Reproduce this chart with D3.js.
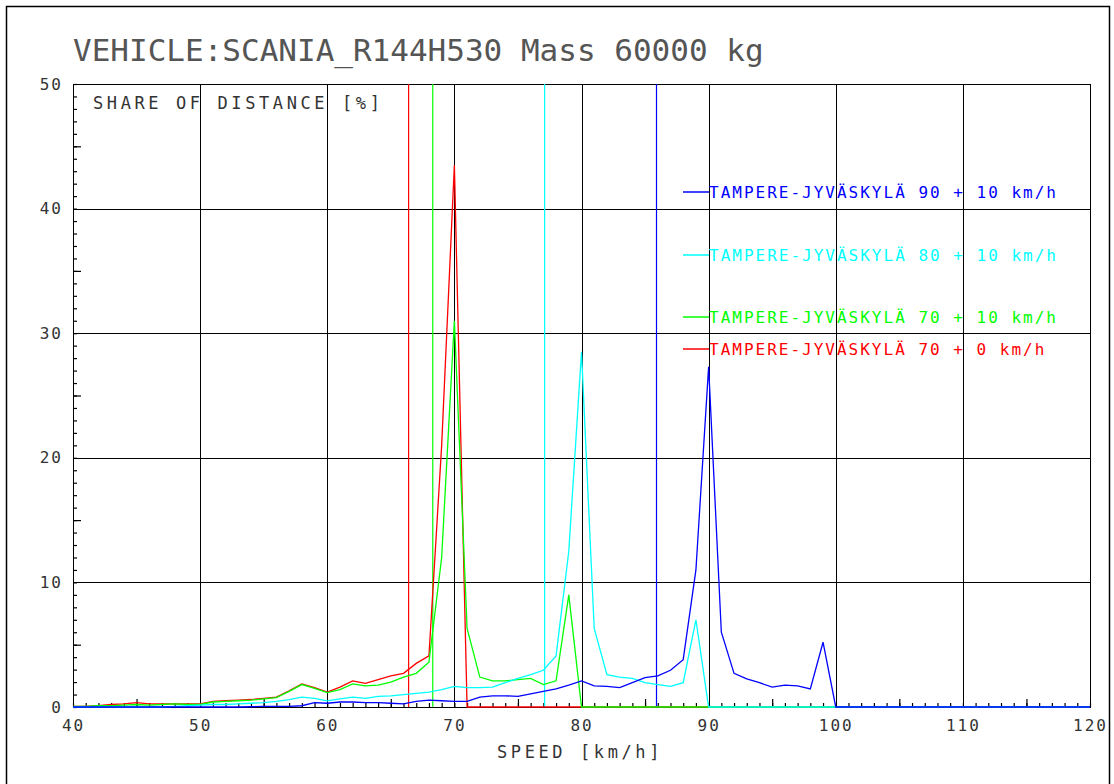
<!DOCTYPE html>
<html>
<head>
<meta charset="utf-8">
<script src="https://cdn.jsdelivr.net/npm/d3@7"></script>
<style>
  body { margin: 0; background: #fff; }
  svg text { font-family: "DejaVu Sans Mono", monospace; fill: #333; }
</style>
</head>
<body>
<div id="chart-area"></div>
<script>
/*
*    speed distribution chart
*/

// speeds [km/h]
let speeds = [40, 41, 42, 43, 44, 45, 46, 47, 48, 49,
              50, 51, 52, 53, 54, 55, 56, 57, 58, 59,
              60, 61, 62, 63, 64, 65, 66, 67, 68, 69,
              70, 71, 72, 73, 74, 75, 76, 77, 78, 79,
              80, 81, 82, 83, 84, 85, 86, 87, 88, 89,
              90, 91, 92, 93, 94, 95, 96, 97, 98, 99,
              100, 101, 102, 103, 104, 105, 106, 107, 108, 109,
              110, 111, 112, 113, 114, 115, 116, 117, 118, 119, 120];

// share of distance [%]
let share70plus0 = [0.05, 0.05, 0.1, 0.2, 0.25, 0.35, 0.25, 0.25, 0.25, 0.25,
                    0.25, 0.45, 0.5, 0.55, 0.6, 0.7, 0.8, 1.3, 1.85, 1.55,
                    1.2, 1.6, 2.1, 1.9, 2.2, 2.5, 2.7, 3.5, 4.1, 21,
                    43.5, 0, 0, 0, 0, 0, 0, 0, 0, 0,
                    0, 0, 0, 0, 0, 0, 0, 0, 0, 0,
                    0, 0, 0, 0, 0, 0, 0, 0, 0, 0,
                    0, 0, 0, 0, 0, 0, 0, 0, 0, 0,
                    0, 0, 0, 0, 0, 0, 0, 0, 0, 0, 0];

let share70plus10 = [0.05, 0.05, 0.1, 0.1, 0.15, 0.2, 0.15, 0.2, 0.25, 0.2,
                     0.2, 0.4, 0.45, 0.5, 0.55, 0.65, 0.75, 1.25, 1.8, 1.5,
                     1.15, 1.4, 1.85, 1.7, 1.75, 2.0, 2.4, 2.7, 3.6, 12,
                     31, 6.3, 2.4, 2.1, 2.1, 2.2, 2.3, 1.8, 2.1, 9.0,
                     0, 0, 0, 0, 0, 0, 0, 0, 0, 0,
                     0, 0, 0, 0, 0, 0, 0, 0, 0, 0,
                     0, 0, 0, 0, 0, 0, 0, 0, 0, 0,
                     0, 0, 0, 0, 0, 0, 0, 0, 0, 0, 0];

let share80plus10 = [0, 0, 0, 0, 0, 0, 0, 0, 0.05, 0.1,
                     0.15, 0.2, 0.2, 0.25, 0.3, 0.35, 0.45, 0.6, 0.8, 0.7,
                     0.5, 0.65, 0.8, 0.7, 0.85, 0.9, 1.0, 1.1, 1.2, 1.4,
                     1.65, 1.55, 1.55, 1.6, 1.95, 2.3, 2.6, 2.95, 4.1, 12.5,
                     28.5, 6.3, 2.6, 2.4, 2.3, 1.95, 1.8, 1.65, 1.95, 7.0,
                     0, 0, 0, 0, 0, 0, 0, 0, 0, 0,
                     0, 0, 0, 0, 0, 0, 0, 0, 0, 0,
                     0, 0, 0, 0, 0, 0, 0, 0, 0, 0, 0];

let share90plus10 = [0, 0, 0, 0, 0, 0, 0, 0, 0, 0,
                     0, 0, 0, 0, 0.02, 0.05, 0.05, 0.05, 0.1, 0.35,
                     0.3, 0.4, 0.4, 0.35, 0.35, 0.3, 0.25, 0.45, 0.55, 0.5,
                     0.45, 0.45, 0.8, 0.9, 0.9, 0.85, 1.05, 1.25, 1.45, 1.75,
                     2.1, 1.7, 1.65, 1.55, 1.95, 2.35, 2.5, 2.95, 3.8, 11,
                     27.3, 6.0, 2.7, 2.25, 1.95, 1.6, 1.75, 1.7, 1.45, 5.2,
                     0, 0, 0, 0, 0, 0, 0, 0, 0, 0,
                     0, 0, 0, 0, 0, 0, 0, 0, 0, 0, 0];

// legend order (top to bottom) and mean speeds
let seriesNames = ["TAMPERE-JYVÄSKYLÄ 90 + 10 km/h",
                   "TAMPERE-JYVÄSKYLÄ 80 + 10 km/h",
                   "TAMPERE-JYVÄSKYLÄ 70 + 10 km/h",
                   "TAMPERE-JYVÄSKYLÄ 70 + 0 km/h"];
let seriesValues = [share90plus10, share80plus10, share70plus10, share70plus0];
let seriesColors = ["#0000ff", "#00ffff", "#00ff00", "#ff0000"];
let meanSpeeds = [85.9, 77.1, 68.3, 66.4];

let xTickLabels = [40, 50, 60, 70, 80, 90, 100, 110, 120];
let yTickLabels = [0, 10, 20, 30, 40, 50];

let margin = { left:73, right:24, top:84, bottom:77 };

let width = 1114 - margin.left - margin.right,
    height = 784 - margin.top - margin.bottom;

let svg = d3.select("#chart-area")
    .append("svg")
    .attr("width", 1114)
    .attr("height", 784);

// outer frame
svg.append("rect")
    .attr("x", 6.5)
    .attr("y", 6.5)
    .attr("width", 1103)
    .attr("height", 800)
    .attr("fill", "none")
    .attr("stroke", "#000")
    .attr("stroke-width", 1.5);

// Title
svg.append("text")
    .attr("x", 73)
    .attr("y", 61)
    .attr("font-size", "31px")
    .style("fill", "#555")
    .text("VEHICLE:SCANIA_R144H530 Mass 60000 kg");

let g = svg.append("g")
    .attr("transform", "translate(" + margin.left + ", " + margin.top + ")");

// X Scale
let x = d3.scaleLinear()
    .domain([40, 120])
    .range([0, width]);

// Y Scale
let y = d3.scaleLinear()
    .domain([0, 50])
    .range([height, 0]);

// Grid
g.append("g")
    .attr("class", "grid")
    .selectAll("line.v")
    .data(xTickLabels)
    .enter().append("line")
        .attr("x1", function(d){ return Math.round(x(d)) + 0.5 })
        .attr("x2", function(d){ return Math.round(x(d)) + 0.5 })
        .attr("y1", 0)
        .attr("y2", height)
        .attr("stroke", "#000")
        .attr("shape-rendering", "crispEdges");

g.select(".grid")
    .selectAll("line.h")
    .data(yTickLabels)
    .enter().append("line")
        .attr("class", "h")
        .attr("x1", 0)
        .attr("x2", width)
        .attr("y1", function(d){ return Math.round(y(d)) + 0.5 })
        .attr("y2", function(d){ return Math.round(y(d)) + 0.5 })
        .attr("stroke", "#000")
        .attr("shape-rendering", "crispEdges");

// plot frame
g.append("rect")
    .attr("x", 0.5)
    .attr("y", 0.5)
    .attr("width", Math.round(width))
    .attr("height", Math.round(height))
    .attr("fill", "none")
    .attr("stroke", "#000")
    .attr("shape-rendering", "crispEdges");

// minor ticks
let xMinor = d3.axisBottom(x).ticks(80).tickSize(-4).tickFormat("");
g.append("g")
    .attr("transform", "translate(0," + height + ")")
    .call(xMinor)
    .call(function(s){ s.select(".domain").remove() });

let xFives = d3.axisBottom(x).tickValues([45, 55, 65, 75, 85, 95, 105, 115]).tickSize(-8).tickFormat("");
g.append("g")
    .attr("transform", "translate(0," + height + ")")
    .call(xFives)
    .call(function(s){ s.select(".domain").remove() });

let yMinor = d3.axisLeft(y).ticks(50).tickSize(-4).tickFormat("");
g.append("g")
    .call(yMinor)
    .call(function(s){ s.select(".domain").remove() });

let yFives = d3.axisLeft(y).tickValues([5, 15, 25, 35, 45]).tickSize(-8).tickFormat("");
g.append("g")
    .call(yFives)
    .call(function(s){ s.select(".domain").remove() });

g.selectAll(".tick line")
    .attr("stroke", "#000")
    .attr("stroke-width", 1.2);

// mean speed lines
g.append("g")
    .selectAll("line")
    .data(meanSpeeds)
    .enter().append("line")
        .attr("x1", function(d){ return x(d) })
        .attr("x2", function(d){ return x(d) })
        .attr("y1", 0)
        .attr("y2", height)
        .attr("stroke", function(d, i){ return seriesColors[i] })
        .attr("stroke-width", 1.2);

// Lines (drawn from last legend entry to first)
let line = d3.line()
    .x(function(d, i){ return x(speeds[i]) })
    .y(function(d){ return y(d) });

for (let i = seriesValues.length - 1; i >= 0; i--) {
    g.append("path")
        .datum(seriesValues[i])
        .attr("fill", "none")
        .attr("stroke", seriesColors[i])
        .attr("stroke-width", 1.3)
        .attr("d", line);
}

// X Axis labels
let xAxisCall = d3.axisBottom(x)
    .tickValues(xTickLabels)
    .tickSize(0)
    .tickPadding(13);
g.append("g")
    .attr("class", "x axis")
    .attr("transform", "translate(0," + height + ")")
    .call(xAxisCall)
    .call(function(s){ s.select(".domain").remove() })
    .selectAll("text")
        .attr("font-family", "DejaVu Sans Mono")
        .attr("font-size", "16px")
        .attr("letter-spacing", "2px")
        .style("fill", "#333");

// Y Axis labels
let yAxisCall = d3.axisLeft(y)
    .tickValues(yTickLabels)
    .tickSize(0)
    .tickPadding(10);
g.append("g")
    .attr("class", "y axis")
    .call(yAxisCall)
    .call(function(s){ s.select(".domain").remove() })
    .selectAll("text")
        .attr("font-family", "DejaVu Sans Mono")
        .attr("font-size", "16px")
        .attr("letter-spacing", "2px")
        .style("fill", "#333");

// Y Label
g.append("text")
    .attr("x", 20)
    .attr("y", 25)
    .attr("font-size", "17px")
    .attr("letter-spacing", "3.6px")
    .text("SHARE OF DISTANCE [%]");

// X Label
g.append("text")
    .attr("x", 424)
    .attr("y", 674)
    .attr("font-size", "17px")
    .attr("letter-spacing", "3.6px")
    .text("SPEED [km/h]");

// Legend
let legendY = [108, 171, 233, 265];
let legend = g.append("g").attr("class", "legend");

seriesNames.forEach(function(name, i){
    legend.append("line")
        .attr("x1", 610)
        .attr("x2", 636)
        .attr("y1", legendY[i])
        .attr("y2", legendY[i])
        .style("stroke", seriesColors[i])
        .style("stroke-width", 1.5);
    legend.append("text")
        .attr("x", 636)
        .attr("y", legendY[i] + 6)
        .attr("font-size", "16px")
        .attr("letter-spacing", "2px")
        .style("fill", seriesColors[i])
        .text(name);
});
</script>
</body>
</html>
